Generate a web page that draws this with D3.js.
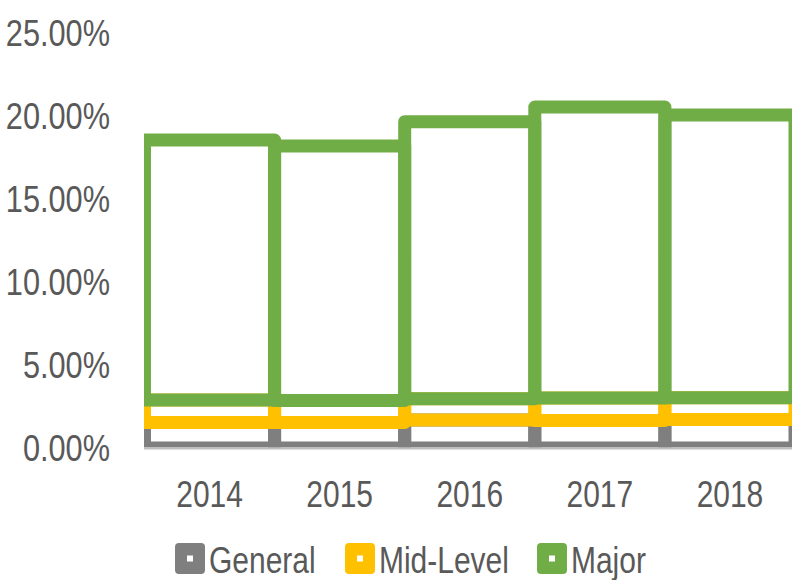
<!DOCTYPE html>
<html>
<head>
<meta charset="utf-8">
<script src="https://cdn.jsdelivr.net/npm/d3@7"></script>
<style>
  body { margin: 0; background: #fff; }
  text { font-family: "Liberation Sans", Arial, sans-serif; fill: #595959; }
</style>
</head>
<body>
<div id="main"></div>
<script>
var ctx = {
    w: 792,
    h: 580,
};

// data (percent)
var years = ["2014", "2015", "2016", "2017", "2018"];
var general = [1.54, 1.54, 1.69, 1.66, 1.72];
var midLevel = [1.35, 1.32, 1.28, 1.35, 1.31];
var major = [15.66, 15.33, 16.69, 17.53, 17.03];
var seriesNames = ["General", "Mid-Level", "Major"];
var seriesColors = ["#7f7f7f", "#ffc000", "#70ad47"];
var yTicks = [0, 5, 10, 15, 20, 25];

var svg = d3.select("#main").append("svg")
    .attr("width", ctx.w)
    .attr("height", ctx.h);

var rows = years.map((yr, i) => ({
    year: yr,
    "General": general[i],
    "Mid-Level": midLevel[i],
    "Major": major[i],
}));

var x = d3.scaleBand().domain(years).range([144.5, 795]).padding(0);
var y = d3.scaleLinear().domain([0, 25]).range([448, 33]);
var color = d3.scaleOrdinal().domain(seriesNames).range(seriesColors);

var stack = d3.stack().keys(seriesNames)(rows);

// clip so strokes don't spill past plot edges
svg.append("clipPath")
    .attr("id", "plot-clip")
    .append("rect")
    .attr("x", 144)
    .attr("y", 0)
    .attr("width", 700)
    .attr("height", 447.5);

var plot = svg.append("g").attr("clip-path", "url(#plot-clip)");

plot.selectAll("g.series")
    .data(stack)
    .enter()
    .append("g")
    .attr("class", "series")
    .attr("stroke", (d) => color(d.key))
    .selectAll("rect")
    .data((d) => d)
    .enter()
    .append("rect")
    .attr("x", (d) => x(d.data.year))
    .attr("y", (d) => y(d[1]))
    .attr("width", x.bandwidth())
    .attr("height", (d) => y(d[0]) - y(d[1]))
    .attr("fill", "none")
    .attr("stroke-width", 13)
    .attr("stroke-linejoin", "round");

// baseline
svg.append("line")
    .attr("x1", 144)
    .attr("x2", 800)
    .attr("y1", 448.5)
    .attr("y2", 448.5)
    .attr("stroke", "#bfbfbf")
    .attr("stroke-width", 2);

// y axis
var yAxis = svg.append("g")
    .attr("transform", "translate(144,0)")
    .call(d3.axisLeft(y).tickValues(yTicks).tickSize(0).tickFormat((d) => d.toFixed(2) + "%"));
yAxis.select(".domain").remove();
yAxis.selectAll("text")
    .attr("x", 0)
    .attr("dy", null)
    .attr("font-size", 37)
    .attr("font-family", null)
    .attr("fill", null)
    .attr("text-anchor", "end")
    .attr("transform", "translate(-34,12) scale(0.83,1)");

// x axis
var xAxis = svg.append("g")
    .attr("transform", "translate(0,448)")
    .call(d3.axisBottom(x).tickSize(0));
xAxis.select(".domain").remove();
xAxis.selectAll("text")
    .attr("y", 0)
    .attr("dy", null)
    .attr("font-size", 37)
    .attr("font-family", null)
    .attr("fill", null)
    .attr("transform", "translate(0,59) scale(0.81,1)");

// legend
var legendX = [175, 345, 537];
var legend = svg.selectAll("g.legend")
    .data(seriesNames)
    .enter()
    .append("g")
    .attr("class", "legend")
    .attr("transform", (d, i) => `translate(${legendX[i]},543)`);

legend.append("rect")
    .attr("width", 30)
    .attr("height", 31)
    .attr("rx", 4)
    .attr("fill", (d) => color(d));
legend.append("rect")
    .attr("x", 12)
    .attr("y", 12.5)
    .attr("width", 6)
    .attr("height", 6)
    .attr("fill", "#fff");
legend.append("text")
    .attr("font-size", 37)
    .attr("transform", "translate(34,30) scale(0.81,1)")
    .text((d) => d);
</script>
</body>
</html>
